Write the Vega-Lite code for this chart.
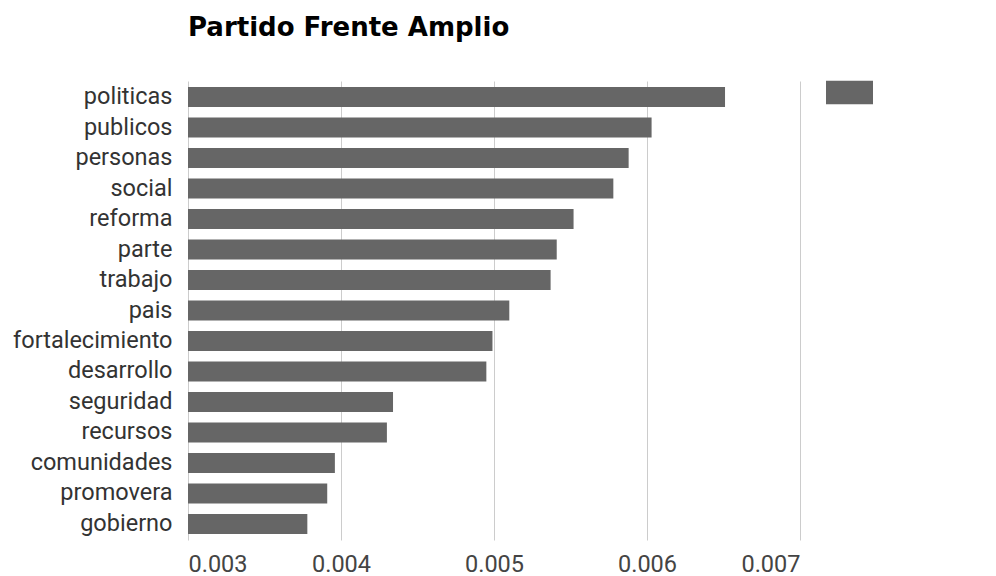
{
  "$schema": "https://vega.github.io/schema/vega-lite/v6.json",
  "autosize": "none",
  "width": 612,
  "height": 459,
  "padding": {"left": 188, "top": 81, "right": 196, "bottom": 36},
  "background": "white",
  "title": {
    "text": "Partido Frente Amplio",
    "anchor": "start",
    "frame": "group",
    "font": "DejaVu Sans",
    "fontSize": 26,
    "fontWeight": "bold",
    "color": "#000000",
    "baseline": "alphabetic",
    "offset": 7
  },
  "data": {
    "values": [
      {"word": "politicas", "value": 0.00651, "s": " "},
      {"word": "publicos", "value": 0.00603, "s": " "},
      {"word": "personas", "value": 0.00588, "s": " "},
      {"word": "social", "value": 0.00578, "s": " "},
      {"word": "reforma", "value": 0.00552, "s": " "},
      {"word": "parte", "value": 0.00541, "s": " "},
      {"word": "trabajo", "value": 0.00537, "s": " "},
      {"word": "pais", "value": 0.00510, "s": " "},
      {"word": "fortalecimiento", "value": 0.00499, "s": " "},
      {"word": "desarrollo", "value": 0.00495, "s": " "},
      {"word": "seguridad", "value": 0.00434, "s": " "},
      {"word": "recursos", "value": 0.00430, "s": " "},
      {"word": "comunidades", "value": 0.00396, "s": " "},
      {"word": "promovera", "value": 0.00391, "s": " "},
      {"word": "gobierno", "value": 0.00378, "s": " "}
    ]
  },
  "mark": {"type": "bar", "clip": true},
  "encoding": {
    "y": {
      "field": "word",
      "type": "nominal",
      "sort": null,
      "title": null,
      "scale": {"paddingInner": 0.35, "paddingOuter": 0.2},
      "axis": {
        "domain": false,
        "ticks": false,
        "grid": false,
        "labelFont": "Roboto",
        "labelFontSize": 23.5,
        "labelColor": "#333333",
        "labelPadding": 16,
        "labelLimit": 300
      }
    },
    "x": {
      "field": "value",
      "type": "quantitative",
      "title": null,
      "scale": {"domain": [0.003, 0.007], "zero": false, "nice": false},
      "axis": {
        "values": [0.003, 0.004, 0.005, 0.006, 0.007],
        "format": ".3f",
        "domain": false,
        "ticks": false,
        "grid": true,
        "gridColor": "#cccccc",
        "gridWidth": 1,
        "labelFont": "Roboto",
        "labelFontSize": 23.5,
        "labelColor": "#444444",
        "labelPadding": 12,
        "labelBaseline": "top"
      }
    },
    "x2": {"datum": 0.003},
    "color": {
      "field": "s",
      "type": "nominal",
      "scale": {"range": ["#666666"]},
      "legend": {
        "title": null,
        "orient": "none",
        "legendX": 638,
        "legendY": -12,
        "padding": 0,
        "symbolType": "M-1,-0.5H1V0.5H-1Z",
        "symbolSize": 2209,
        "symbolFillColor": "#666666",
        "symbolStrokeWidth": 0,
        "symbolOpacity": 1,
        "labelFontSize": 1,
        "labelExpr": "''"
      }
    }
  },
  "config": {
    "view": {"stroke": null},
    "axis": {"gridColor": "#cccccc"}
  }
}
